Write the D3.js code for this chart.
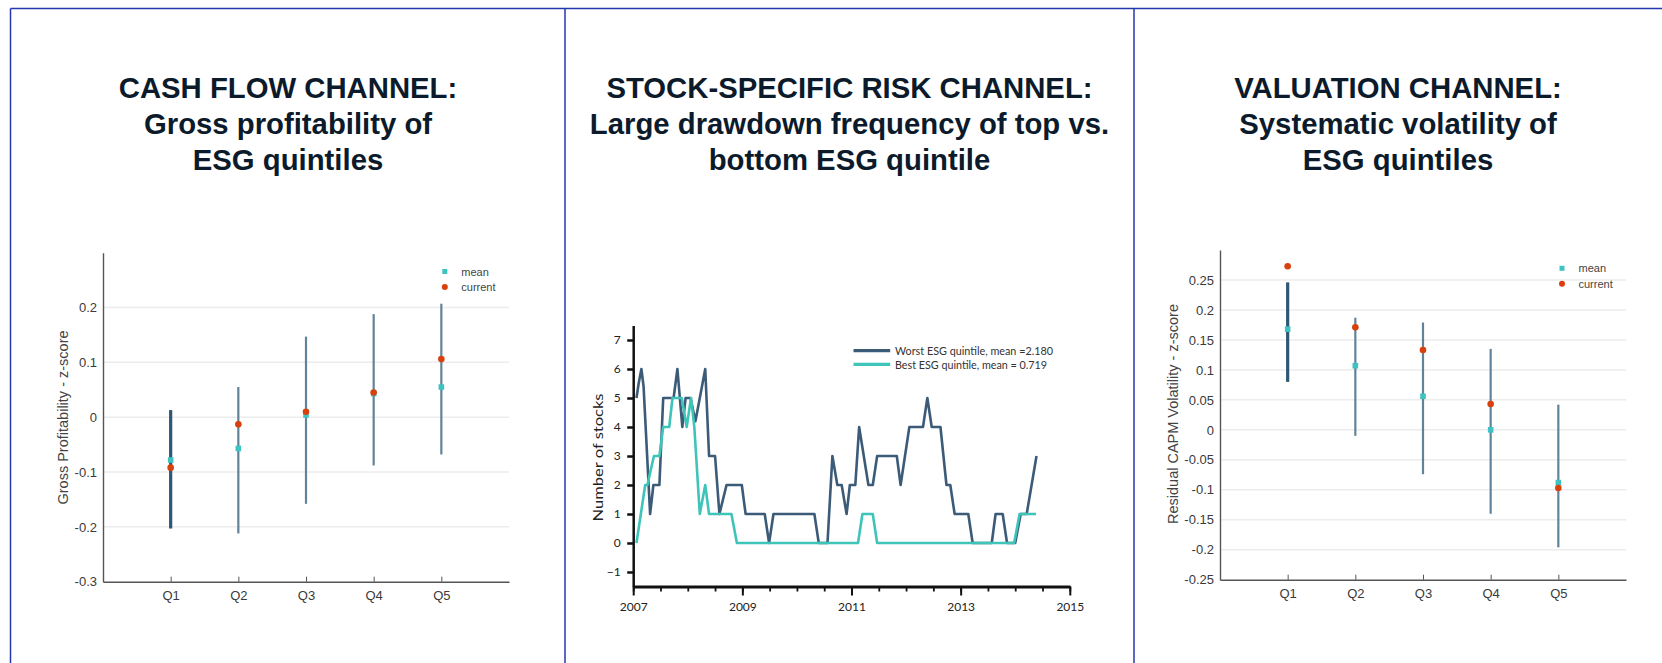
<!DOCTYPE html>
<html><head><meta charset="utf-8">
<script src="https://cdn.jsdelivr.net/npm/d3@7/dist/d3.min.js"></script>
<style>
html,body{margin:0;padding:0;background:#fff;}
svg{display:block;}
</style></head>
<body><svg id="c" width="1662" height="663"></svg>
<script>
// ---------------- DATA ----------------
const titleLines1 = ["CASH FLOW CHANNEL:", "Gross profitability of", "ESG quintiles"];
const titleLines2 = ["STOCK-SPECIFIC RISK CHANNEL:", "Large drawdown frequency of top vs.", "bottom ESG quintile"];
const titleLines3 = ["VALUATION CHANNEL:", "Systematic volatility of", "ESG quintiles"];

const quintiles = ["Q1", "Q2", "Q3", "Q4", "Q5"];
const legendNames = ["mean", "current"];

// Panel 1: gross profitability z-score
const gpLow     = [-0.203, -0.212, -0.158, -0.088, -0.068];
const gpHigh    = [ 0.013,  0.055,  0.147,  0.188,  0.207];
const gpMean    = [-0.078, -0.057,  0.004,  0.043,  0.055];
const gpCurrent = [-0.092, -0.013,  0.010,  0.045,  0.106];
const gpTicks      = [-0.3, -0.2, -0.1, 0, 0.1, 0.2];
const gpTickLabels = ["-0.3", "-0.2", "-0.1", "0", "0.1", "0.2"];
const gpAxisTitle  = "Gross Profitability - z-score";

// Panel 3: residual CAPM volatility z-score
const volLow     = [ 0.080, -0.010, -0.074, -0.140, -0.196];
const volHigh    = [ 0.246,  0.187,  0.179,  0.135,  0.042];
const volMean    = [ 0.168,  0.107,  0.056,  0.000, -0.088];
const volCurrent = [ 0.273,  0.171,  0.133,  0.043, -0.097];
const volTicks      = [-0.25, -0.2, -0.15, -0.1, -0.05, 0, 0.05, 0.1, 0.15, 0.2, 0.25];
const volTickLabels = ["-0.25", "-0.2", "-0.15", "-0.1", "-0.05", "0", "0.05", "0.1", "0.15", "0.2", "0.25"];
const volAxisTitle  = "Residual CAPM Volatility - z-score";

// Panel 2: number of stocks with large drawdowns
const worstYears  = [2007.06, 2007.10, 2007.15, 2007.19, 2007.31, 2007.37, 2007.48, 2007.55, 2007.74, 2007.81,
                     2007.90, 2007.96, 2008.05, 2008.14, 2008.32, 2008.39, 2008.50, 2008.58, 2008.71, 2008.99,
                     2009.06, 2009.41, 2009.49, 2009.57, 2010.32, 2010.40, 2010.56, 2010.65, 2010.74, 2010.82,
                     2010.91, 2010.97, 2011.07, 2011.14, 2011.31, 2011.39, 2011.47, 2011.83, 2011.90, 2012.06,
                     2012.31, 2012.39, 2012.47, 2012.63, 2012.74, 2012.81, 2012.89, 2013.14, 2013.22, 2013.57,
                     2013.64, 2013.77, 2013.85, 2014.00, 2014.10, 2014.21, 2014.39];
const worstCounts = [5, 5.5, 6, 5.4, 1, 2, 2, 5, 5, 6,
                     4, 5, 5, 4.2, 6, 3, 3, 1, 2, 2,
                     1, 1, 0, 1, 1, 0, 0, 3, 2, 2,
                     1, 2, 2, 4, 2, 2, 3, 3, 2, 4,
                     4, 5, 4, 4, 2, 2, 1, 1, 0, 0,
                     1, 1, 0, 0, 1, 1, 3];
const bestYears  = [2007.06, 2007.22, 2007.26, 2007.38, 2007.48, 2007.55, 2007.66, 2007.72, 2007.89, 2007.98,
                    2008.06, 2008.12, 2008.22, 2008.32, 2008.39, 2008.80, 2008.90, 2011.12, 2011.20, 2011.39,
                    2011.47, 2013.98, 2014.08, 2014.38];
const bestCounts = [0, 2, 2, 3, 3, 4, 4, 5, 5, 4,
                    5, 4, 1, 2, 1, 1, 0, 0, 1, 1,
                    0, 0, 1, 1];
const stockTicks = [-1, 0, 1, 2, 3, 4, 5, 6, 7];
const yearTicks  = [2007, 2009, 2011, 2013, 2015];
const seriesNames = ["Worst ESG quintile, mean =2.180", "Best ESG quintile, mean = 0.719"];
const stockAxisTitle = "Number of stocks";

// ---------------- DRAWING ----------------
const svg = d3.select("#c");
const TEAL = "#3fc3c2", RED = "#d8400e";

// panel frame
const frame = svg.append("g").attr("stroke", "#2437b0").attr("stroke-width", 1.5).attr("fill", "none");
frame.append("line").attr("x1", 10.5).attr("x2", 1662).attr("y1", 8.5).attr("y2", 8.5);
[10.5, 565, 1134].forEach(x => frame.append("line").attr("x1", x).attr("x2", x).attr("y1", 8.5).attr("y2", 663));

// titles
[[titleLines1, 288], [titleLines2, 849.5], [titleLines3, 1398]].forEach(([lines, cx]) => {
  const t = svg.append("text").attr("text-anchor", "middle")
    .attr("font-family", "'Liberation Sans', Arial, sans-serif").attr("font-weight", "bold")
    .attr("font-size", 29.3).attr("fill", "#0c1b2b");
  lines.forEach((s, i) => t.append("tspan").attr("x", cx).attr("y", 98 + i * 36).text(s));
});

function quintilePanel(o) {
  const g = svg.append("g").attr("font-family", "'Liberation Sans', Arial, sans-serif");
  const x = d3.scalePoint().domain(quintiles).range([o.x0, o.x1]).padding(1);
  const y = d3.scaleLinear().domain(o.domain).range([o.y0, o.y1]);
  // gridlines
  g.append("g").selectAll("line").data(o.ticks.filter(v => v > o.domain[0]))
    .join("line").attr("x1", o.x0).attr("x2", o.x1)
    .attr("y1", d => y(d)).attr("y2", d => y(d))
    .attr("stroke", "#ececec").attr("stroke-width", 1.5);
  // axes
  const ya = g.append("g").attr("transform", `translate(${o.x0},0)`)
    .call(d3.axisLeft(y).tickValues(o.ticks).tickSizeInner(0).tickSizeOuter(0).tickPadding(6)
      .tickFormat((d, i) => o.tickLabels[i]));
  const xa = g.append("g").attr("transform", `translate(0,${o.y0})`)
    .call(d3.axisBottom(x).tickSizeInner(-5).tickSizeOuter(0).tickPadding(o.xPad));
  [ya, xa].forEach(a => {
    a.select(".domain").attr("stroke", "#555").attr("stroke-width", 1.4);
    a.selectAll(".tick line").attr("stroke", "#555").attr("stroke-width", 1);
    a.selectAll("text").attr("font-size", 13).attr("fill", "#3a3a3a").attr("font-family", "'Liberation Sans', Arial, sans-serif");
  });
  // axis title
  g.append("text").attr("transform", `translate(${o.titleX},${o.titleY}) rotate(-90)`)
    .attr("text-anchor", "middle").attr("dominant-baseline", "central")
    .attr("font-size", 14.5).attr("fill", "#444").text(o.axisTitle);
  // error bars
  g.append("g").selectAll("line").data(quintiles).join("line")
    .attr("x1", d => x(d)).attr("x2", d => x(d))
    .attr("y1", (d, i) => y(o.low[i])).attr("y2", (d, i) => y(o.high[i]))
    .attr("stroke", (d, i) => i === 0 ? "#2f5672" : "#5f8399")
    .attr("stroke-width", (d, i) => i === 0 ? 3.2 : 2.2);
  // means
  g.append("g").selectAll("rect").data(quintiles).join("rect")
    .attr("x", d => x(d) - 2.8).attr("y", (d, i) => y(o.mean[i]) - 2.8)
    .attr("width", 5.6).attr("height", 5.6).attr("fill", TEAL);
  // currents
  g.append("g").selectAll("circle").data(quintiles).join("circle")
    .attr("cx", d => x(d)).attr("cy", (d, i) => y(o.current[i])).attr("r", 3.3).attr("fill", RED);
  // legend
  const lg = g.append("g");
  lg.append("rect").attr("x", o.legX - 2.5).attr("y", o.legY - 2.5).attr("width", 5).attr("height", 5).attr("fill", TEAL);
  lg.append("circle").attr("cx", o.legX).attr("cy", o.legY + 15.5).attr("r", 3).attr("fill", RED);
  legendNames.forEach((s, i) => lg.append("text").attr("x", o.legX + 16.5).attr("y", o.legY + i * 15.5)
    .attr("dominant-baseline", "central").attr("font-size", 11).attr("fill", "#444").text(s));
}

quintilePanel({x0: 103, x1: 509, y0: 581.7, y1: 252.7, domain: [-0.3, 0.3],
  ticks: gpTicks, tickLabels: gpTickLabels, low: gpLow, high: gpHigh, mean: gpMean, current: gpCurrent,
  axisTitle: gpAxisTitle, titleX: 62.5, titleY: 417.5, legX: 444.8, legY: 271.5, xPad: 9.5});

quintilePanel({x0: 1220, x1: 1626, y0: 579.7, y1: 250, domain: [-0.25, 0.3],
  ticks: volTicks, tickLabels: volTickLabels, low: volLow, high: volHigh, mean: volMean, current: volCurrent,
  axisTitle: volAxisTitle, titleX: 1173, titleY: 414, legX: 1562, legY: 268.3, xPad: 9});

// ---- middle panel ----
(function () {
  const F = "Lato, 'Open Sans', sans-serif";
  const g = svg.append("g").attr("font-family", F);
  const x = d3.scaleLinear().domain([2007, 2015]).range([633.2, 1069.8]);
  const y = d3.scaleLinear().domain([-1.5, 7.5]).range([586.5, 325.5]);
  // minor x ticks
  const xm = g.append("g").attr("transform", "translate(0,586.5)")
    .call(d3.axisBottom(x).tickValues(d3.range(2007, 2015.01, 0.5)).tickSize(5).tickFormat(""));
  xm.select(".domain").remove();
  xm.selectAll(".tick line").attr("stroke", "#111").attr("stroke-width", 1.8);
  const xa = g.append("g").attr("transform", "translate(0,586.5)")
    .call(d3.axisBottom(x).tickValues(yearTicks).tickSizeInner(9).tickSizeOuter(0).tickPadding(7).tickFormat(d3.format("d")));
  xa.select(".domain").attr("stroke", "#111").attr("stroke-width", 3);
  xa.selectAll(".tick line").attr("stroke", "#111").attr("stroke-width", 2);
  xa.selectAll("text").attr("font-family", F).attr("font-size", 12).attr("fill", "#222");
  const ya = g.append("g").attr("transform", "translate(633.2,0)")
    .call(d3.axisLeft(y).tickValues(stockTicks).tickSizeInner(6).tickSizeOuter(0).tickPadding(6.5).tickFormat(d3.format("d")));
  ya.select(".domain").attr("stroke", "#111").attr("stroke-width", 2.5);
  ya.selectAll(".tick line").attr("stroke", "#111").attr("stroke-width", 2.5);
  ya.selectAll("text").attr("font-family", F).attr("font-size", 12).attr("fill", "#222");
  g.append("text").attr("transform", "translate(598,457.5) rotate(-90)")
    .attr("text-anchor", "middle").attr("dominant-baseline", "central")
    .attr("font-size", 13.5).attr("textLength", 128).attr("lengthAdjust", "spacingAndGlyphs")
    .attr("fill", "#222").text(stockAxisTitle);

  const line = d3.line().x(d => x(d[0])).y(d => y(d[1]));
  const worst = worstYears.map((t, i) => [t, worstCounts[i]]);
  const best = bestYears.map((t, i) => [t, bestCounts[i]]);
  const colors = ["#3b5b78", "#3fc4b9"];
  [worst, best].forEach((s, i) => g.append("path").datum(s).attr("d", line)
    .attr("fill", "none").attr("stroke", colors[i]).attr("stroke-width", 2.6).attr("stroke-linejoin", "round"));
  // legend
  const legendWidths = [158, 152];
  seriesNames.forEach((s, i) => {
    const ly = 350.7 + i * 13.6;
    g.append("line").attr("x1", 853.5).attr("x2", 890.2).attr("y1", ly).attr("y2", ly)
      .attr("stroke", colors[i]).attr("stroke-width", 3.2);
    g.append("text").attr("x", 895).attr("y", ly).attr("dominant-baseline", "central")
      .attr("font-size", 11.5).attr("textLength", legendWidths[i]).attr("lengthAdjust", "spacingAndGlyphs")
      .attr("fill", "#333").text(s);
  });
})();
</script>
</body></html>
